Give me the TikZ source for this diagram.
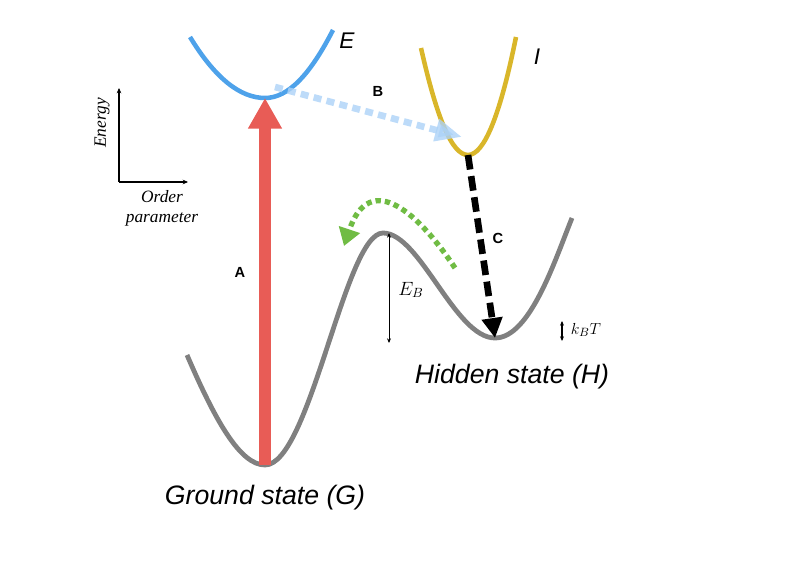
\documentclass[tikz,border=0pt]{standalone}
\usepackage{fontspec}
\setsansfont{Liberation Sans}
\newfontfamily\axisfont{Liberation Serif}
\usepackage{xcolor}
\usetikzlibrary{arrows.meta,positioning}

\definecolor{wellgray}{RGB}{128,128,128}
\definecolor{excred}{RGB}{232,92,86}
\definecolor{ecurve}{RGB}{78,162,234}
\definecolor{icurve}{RGB}{217,182,42}
\definecolor{bblue}{RGB}{172,210,247}
\definecolor{relaxgreen}{RGB}{112,188,68}

\begin{document}
\begin{tikzpicture}[x=0.75pt,y=-0.75pt,
    well/.style={line width=3.6pt,color=wellgray},
    parab/.style={line width=3.4pt},
    statelbl/.style={font=\sffamily\itshape\fontsize{20}{24}\selectfont},
    curvelbl/.style={font=\sffamily\itshape\fontsize{17}{20}\selectfont},
    steplbl/.style={font=\sffamily\bfseries\fontsize{11}{13}\selectfont},
    axislbl/.style={font=\axisfont\itshape\fontsize{13}{16}\selectfont,align=center}]
    \useasboundingbox (0,0) rectangle (800,566);

    % Axes
    \coordinate (origin) at (119,182);
    \coordinate (eaxis) at (119,88);
    \coordinate (oaxis) at (188,182);
    \draw[line width=0.9pt,-{Stealth[length=4pt,width=3.5pt]}] (origin) -- (eaxis);
    \draw[line width=0.9pt,-{Stealth[length=4pt,width=3.5pt]}] (origin) -- (oaxis);
    \node[axislbl,rotate=90] (energy) at (102,123) {Energy};
    \node[axislbl] (order) at (162,208) {Order\\[-1pt]parameter};

    % Energy landscape
    \coordinate (gstart) at (187,355);
    \coordinate (gmin) at (265,465);
    \coordinate (peak) at (383,233);
    \coordinate (hmin) at (495,338);
    \coordinate (gend) at (572,218);
    \draw[well] (gstart) .. controls (215,420) and (240,465) .. (gmin)
        .. controls (310,465) and (345,233) .. (peak)
        .. controls (420,233) and (455,338) .. (hmin)
        .. controls (530,338) and (555,260) .. (gend);

    % Excited (E) and intermediate (I) curves
    \coordinate (emin) at (265,98);
    \coordinate (imin) at (468,155);
    \draw[parab,ecurve] (190,37) .. controls (215,78) and (240,98) .. (emin)
        .. controls (288,98) and (310,75) .. (333,30);
    \draw[parab,icurve] (421,48) .. controls (437,119) and (452,155) .. (imin)
        .. controls (484,155) and (500,116) .. (516,37);
    \node[curvelbl] (lblE) at (347,41) {E};
    \node[curvelbl] (lblI) at (537,57) {I};

    % B: E -> I
    \coordinate (bstart) at (275,87);
    \coordinate (bend) at (462,137);
    \draw[line width=5pt,bblue,opacity=0.8,dash pattern=on 6pt off 4pt,
        -{Triangle[width=16pt,length=20pt]}] (bstart) -- (bend);
    \node[steplbl] (lblB) at (378,91) {B};

    % A: G -> E
    \draw[line width=9pt,excred,-{Triangle[width=24pt,length=23pt]}] (gmin) -- (emin);
    \node[steplbl] (lblA) at (240,272) {A};

    % C: I -> H
    \draw[line width=5pt,black,dash pattern=on 11pt off 5pt,
        -{Triangle[width=15pt,length=15pt]}] (imin) -- (hmin);
    \node[steplbl] (lblC) at (498,238) {C};

    % thermal return over the barrier
    \coordinate (hback) at (455,268);
    \coordinate (gback) at (344,246);
    \draw[line width=4pt,relaxgreen,dash pattern=on 4pt off 3pt,
        -{Triangle[width=16pt,length=13pt]}] (hback) .. controls (420,215) and (370,168) .. (gback);

    % Barrier height and thermal energy
    \coordinate (ebtop) at (389,233);
    \coordinate (ebbot) at (389,343);
    \draw[line width=0.7pt,{Stealth[length=3.5pt,width=3pt]}-{Stealth[length=3.5pt,width=3pt]}] (ebtop) -- (ebbot);
    \node[font=\fontsize{14}{16}\selectfont] (lblEB) at (411,290) {$E_B$};
    \coordinate (kttop) at (562,321);
    \coordinate (ktbot) at (562,341);
    \draw[line width=0.8pt,{Stealth[length=3.5pt,width=3pt]}-{Stealth[length=3.5pt,width=3pt]}] (kttop) -- (ktbot);
    \node[font=\fontsize{13}{15}\selectfont] (lblkT) at (586,330) {$k_BT$};

    % States
    \node[statelbl] (ground) at (265,498) {Ground state (G)};
    \node[statelbl] (hidden) at (512,377) {Hidden state (H)};
\end{tikzpicture}
\end{document}
